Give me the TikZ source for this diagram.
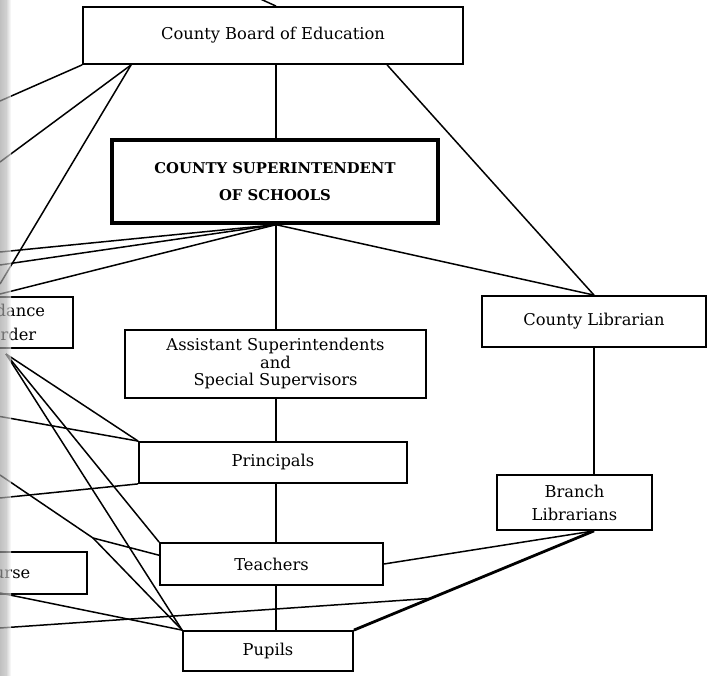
\documentclass[tikz,border=0pt]{standalone}
\usepackage{fontspec}
\setmainfont{DejaVu Serif}
\usetikzlibrary{calc}
\begin{document}
\begin{tikzpicture}[x=1pt,y=-1pt,
  box/.style={draw, line width=1.8pt, inner sep=0pt, align=center,
    font=\fontsize{16.3}{17.5}\selectfont},
  bigbox/.style={draw, line width=3.4pt, inner sep=0pt, align=center,
    font=\fontsize{14.8}{27}\selectfont\bfseries},
  link/.style={line width=1.5pt},
  thicklink/.style={line width=2.8pt}]
\useasboundingbox (0,0) rectangle (710,676);
\clip (0,0) rectangle (710,676);
\fill[white] (0,0) rectangle (710,676);
% axis coordinates
\coordinate (ax) at (276,0);
\coordinate (topsrc) at (232,-14);
% boxes
\node[box, minimum width=380pt, minimum height=57pt] (cbe) at (273,35.5) {County Board of Education};
\node[bigbox, minimum width=326pt, minimum height=83pt] (sup) at (275,181.5) {COUNTY SUPERINTENDENT\\OF SCHOOLS};
\node[box, minimum width=224pt, minimum height=51pt] (cl) at (594,321.5) {County Librarian};
\node[box, minimum width=155pt, minimum height=55pt, font=\fontsize{16.3}{23}\selectfont] (br) at (574.5,502.5) {Branch\\Librarians};
\node[box, minimum width=301pt, minimum height=68pt] (as) at (275.5,364) {Assistant Superintendents\\and\\Special Supervisors};
\node[box, minimum width=268pt, minimum height=41pt] (pr) at (273,462.5) {Principals};
\node[box, minimum width=223pt, minimum height=42pt] (te) at (271.5,564) {Teachers};
\node[box, minimum width=170pt, minimum height=40pt] (pu) at (268,651) {Pupils};
\node[box, minimum width=150pt, minimum height=51pt, font=\fontsize{16.3}{24}\selectfont] (at) at (-2,322.5) {Attendance\\Recorder};
\node[box, minimum width=164pt, minimum height=42pt] (nu) at (5,573) {Nurse};
% helper coordinates
\coordinate (L1) at (0,101);
\coordinate (L2) at (0,162);
\coordinate (L3) at (0,284);
\coordinate (L4) at (0,252);
\coordinate (L5) at (0,265);
\coordinate (L6) at (0,294);
\coordinate (A0) at (6,354);
\coordinate (L8) at (0,416.5);
\coordinate (L9) at (0,498);
\coordinate (L10) at (0,475);
\coordinate (K) at (93,538);
\coordinate (N0) at (0,593);
\coordinate (L7) at (0,628);
\coordinate (brs) at (br.south -| cl.south);
\coordinate (meet) at ($(pu.north east)!0.32!(brs)$);
% connectors
\draw[link] (topsrc) -- (cbe.north -| ax);
\draw[link] (cbe.south -| ax) -- (sup.north -| ax);
\draw[link] (cbe.south west) -- (L1);
\draw[link] ($(cbe.south west)+(49,0)$) -- (L2);
\draw[link] ($(cbe.south west)+(49,0)$) -- (L3);
\draw[link] ($(cbe.south west)+(305,0)$) -- (cl.north);
\draw[link] (sup.south -| ax) -- (L4);
\draw[link] (sup.south -| ax) -- (L5);
\draw[link] (sup.south -| ax) -- (L6);
\draw[link] (sup.south -| ax) -- (cl.north);
\draw[link] (sup.south -| ax) -- (as.north -| ax);
\draw[link] (as.south -| ax) -- (pr.north -| ax);
\draw[link] (pr.south -| ax) -- (te.north -| ax);
\draw[link] (te.south -| ax) -- (pu.north -| ax);
\draw[link] (cl.south) -- (br.north -| cl.south);
\draw[link] (brs) -- (te.east);
\draw[thicklink] (brs) -- (pu.north east);
\draw[link] (L7) -- (meet);
\draw[link] (A0) -- (pr.north west);
\draw[link] (A0) -- (te.north west);
\draw[link] (A0) -- (pu.north west);
\draw[link] (L8) -- (pr.north west);
\draw[link] (L9) -- (pr.south west);
\draw[link] (L10) -- (K) -- ($(te.north west)!0.3!(te.south west)$);
\draw[link] (K) -- (pu.north west);
\draw[link] (N0) -- (pu.north west);
% gutter shadow of the scan
\shade[left color=gray!75, right color=gray!55, fill opacity=0.65] (0,0) rectangle (6,676);
\shade[left color=gray!55, right color=white, fill opacity=0.65] (6,0) rectangle (11,676);
\end{tikzpicture}
\end{document}
